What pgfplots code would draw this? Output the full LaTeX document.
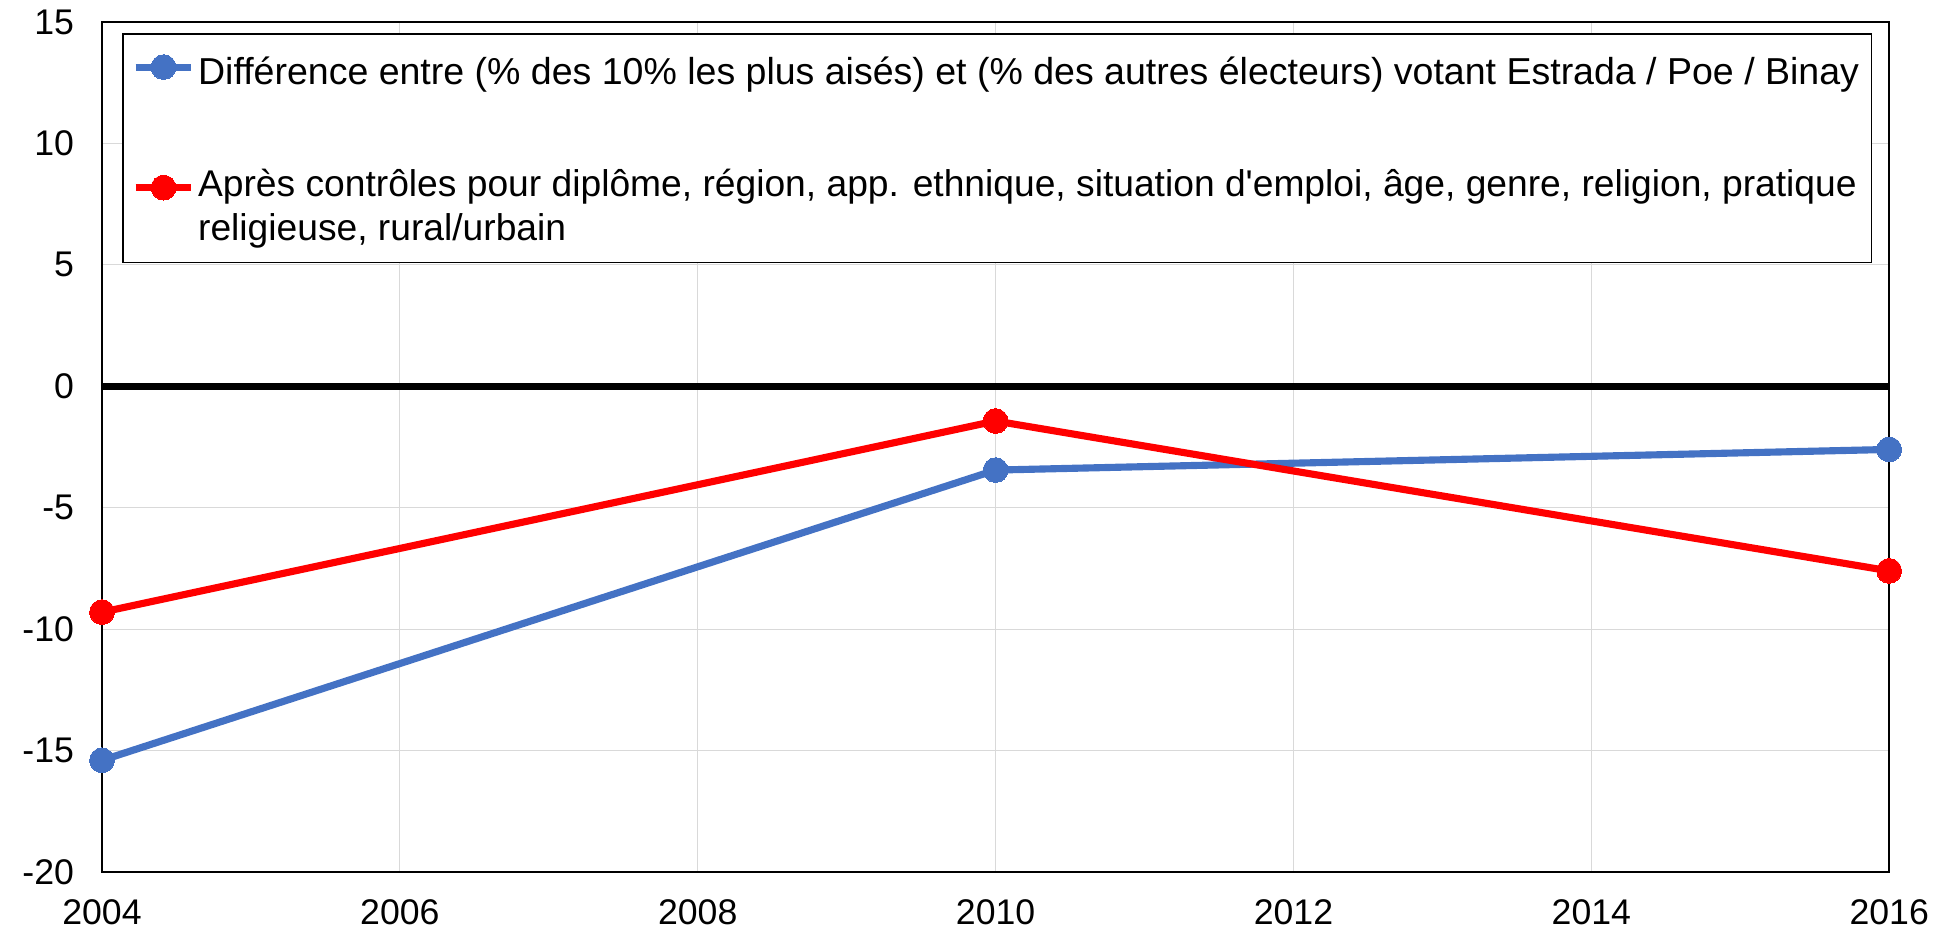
\documentclass[border=0pt]{standalone}
\usepackage{fontspec}
\setmainfont{Liberation Sans}
\usepackage{pgfplots}
\pgfplotsset{compat=1.18}
\usetikzlibrary{calc}
\definecolor{cblue}{HTML}{4472C4}
\definecolor{cred}{HTML}{FF0000}
\definecolor{cgrid}{HTML}{D9D9D9}
\begin{document}
\begin{tikzpicture}
\begin{axis}[
  scale only axis,
  width=576.5pt, height=274.2pt,
  xmin=2004, xmax=2016, ymin=-20, ymax=15,
  xtick={2004,2006,...,2016}, ytick={-20,-15,...,15},
  /pgf/number format/assume math mode=true,
  xticklabel style={/pgf/number format/1000 sep={}, font=\fontsize{11.5}{13}\selectfont, yshift=-5.5pt},
  yticklabel style={font=\fontsize{11.5}{13}\selectfont, xshift=-5.5pt},
  major tick length=0pt,
  grid=major,
  major grid style={cgrid, line width=0.35pt},
  axis line style={black, line width=0.6pt},
  legend cell align=left,
  legend style={at={(0.0112,0.987)}, anchor=north west, draw=black, line width=0.5pt, fill=white,
    font=\fontsize{12.1}{14.2}\selectfont, inner xsep=3pt, inner ysep=0.75pt, row sep=19.9pt,
    nodes={inner xsep=1pt, inner ysep=2pt, text depth=}},
  legend image code/.code={\draw[mark repeat=2, mark phase=2] plot coordinates {(0pt,0pt) (9pt,0pt) (18pt,0pt)};},
]
\addplot[black, line width=2.1pt, forget plot] coordinates {(2004,0) (2016,0)};
\addplot[cblue, line width=2.3pt, mark=*, mark size=4pt, mark options={solid, fill=cblue, draw=cblue, line width=0pt}]
  coordinates {(2004,-15.4) (2010,-3.45) (2016,-2.6)};
\addlegendentry{\rule{0pt}{13.45pt}Différence entre (\% des 10\% les plus aisés) et (\% des autres électeurs) votant Estrada / Poe / Binay}
\addplot[cred, line width=2.3pt, mark=*, mark size=4pt, mark options={solid, fill=cred, draw=cred, line width=0pt},
  legend image code/.code={\draw[mark repeat=2, mark phase=2] plot coordinates {(0pt,7.2pt) (9pt,7.2pt) (18pt,7.2pt)};}]
  coordinates {(2004,-9.3) (2010,-1.43) (2016,-7.6)};
\addlegendentry{\fontsize{12}{14.2}\selectfont\begin{tabular}[t]{@{}l@{}}Après contrôles pour diplôme, région, app. ethnique, situation d\textquotesingle emploi, âge, genre, religion, pratique\\religieuse, rural/urbain\end{tabular}}
\coordinate (bl) at (rel axis cs:0,0);
\coordinate (tr) at (rel axis cs:1,1);
\end{axis}
\pgfresetboundingbox
\path ($(bl)+(-32.9pt,-19.7pt)$) rectangle ($(tr)+(20.6pt,7.1pt)$);
\end{tikzpicture}
\end{document}
